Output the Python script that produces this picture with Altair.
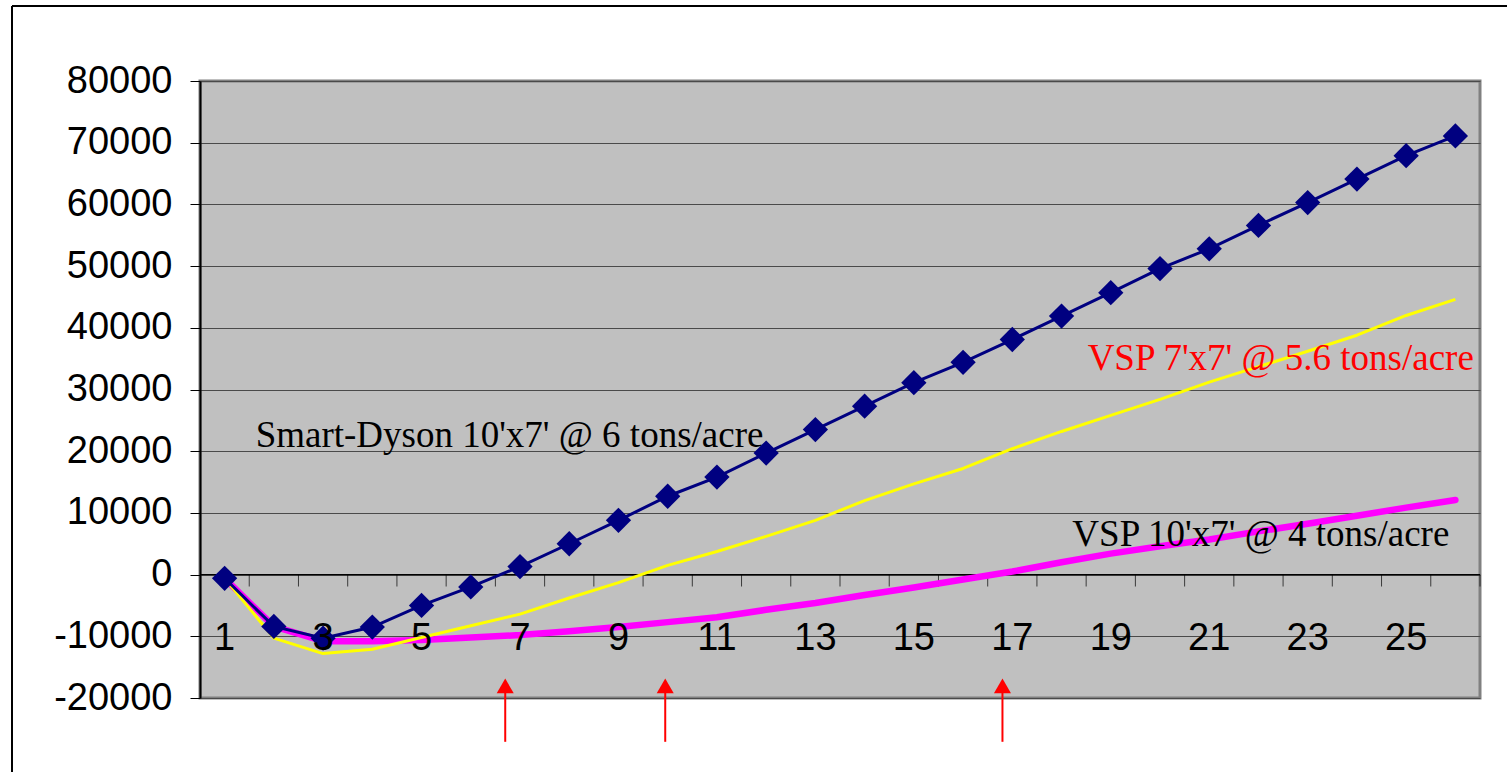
import altair as alt
import pandas as pd

# Cumulative net return per year for three planting scenarios
years = list(range(1, 27))
smart_dyson_10x7 = [-600, -8400, -10300, -8500, -5000, -2000, 1300, 5000, 8800, 12700,
                    15800, 19700, 23500, 27300, 31100, 34400, 38100, 41900, 45700, 49600,
                    52800, 56600, 60300, 64100, 67900, 71100]
vsp_7x7 = [-600, -10300, -12800, -12100, -10200, -8300, -6400, -3800, -1300, 1500,
           3750, 6200, 8800, 12000, 14700, 17200, 20400, 23200, 25800, 28400,
           31200, 33700, 36200, 38800, 42000, 44600]
vsp_10x7 = [-600, -8400, -10800, -10800, -10600, -10200, -9800, -9200, -8500, -7700,
            -6900, -5700, -4600, -3300, -2100, -800, 500, 2000, 3400, 4600,
            5700, 7000, 8250, 9550, 10850, 12100]

# Payback years marked with arrows below the plot
payback_years = [6.7, 9.95, 16.8]

# Category labels along the zero line
x_labels = [1, 3, 5, 7, 9, 11, 13, 15, 17, 19, 21, 23, 25]
y_ticks = list(range(-20000, 80001, 10000))

# Series annotations
ann_text = ["Smart-Dyson 10'x7' @ 6 tons/acre", "VSP 7'x7' @ 5.6 tons/acre",
            "VSP 10'x7' @ 4 tons/acre"]
ann_color = ["#000000", "#FF0000", "#000000"]
ann_x = [1.63, 18.53, 18.22]
ann_y = [20700, 33100, 4700]

df = pd.DataFrame({
    "year": years * 3,
    "value": smart_dyson_10x7 + vsp_7x7 + vsp_10x7,
    "series": ["Smart-Dyson"] * 26 + ["VSP 7x7"] * 26 + ["VSP 10x7"] * 26,
})
labels_df = pd.DataFrame({"year": x_labels, "label": [str(v) for v in x_labels]})
ticks_df = pd.DataFrame({"year": [y + 0.5 for y in years]})
arrows_df = pd.DataFrame({"year": payback_years})
ann_df = pd.DataFrame({"text": ann_text, "color": ann_color, "x": ann_x, "y": ann_y})

FONT_SANS = "Liberation Sans"
FONT_SERIF = "Liberation Serif"

x_scale = alt.Scale(domain=[0.5, 26.5], nice=False, zero=False)
y_scale = alt.Scale(domain=[-20000, 80000], nice=False)
y_axis = alt.Axis(values=y_ticks, title=None, labelExpr="'' + datum.value",
                  labelFont=FONT_SANS, labelFontSize=38, labelColor="#000000",
                  labelPadding=18, tickSize=10, tickColor="#000000", tickWidth=1,
                  domainColor="#000000", domainWidth=2,
                  grid=True, gridColor="#4a4a4a", gridWidth=1)


def X(field):
    return alt.X(f"{field}:Q", scale=x_scale, axis=None)


def Y(field):
    return alt.Y(f"{field}:Q", scale=y_scale, axis=y_axis)


one_row = alt.Data(values=[{}])

zero_line = alt.Chart(one_row).mark_rule(color="#000000", strokeWidth=1.2).encode(
    y=alt.datum(0, scale=y_scale, axis=y_axis)
)

x_ticks = alt.Chart(ticks_df).mark_tick(
    orient="vertical", size=12, thickness=1, color="#000000", yOffset=6
).encode(x=X("year"), y=alt.datum(0))

x_text = alt.Chart(labels_df).mark_text(
    font=FONT_SANS, fontSize=38, color="#000000", baseline="alphabetic", dy=75
).encode(x=X("year"), y=alt.datum(0), text="label:N")

magenta = alt.Chart(df).transform_filter(alt.datum.series == "VSP 10x7").mark_line(
    color="#FF00FF", strokeWidth=6.5, strokeJoin="round", strokeCap="round"
).encode(x=X("year"), y=Y("value"))

yellow = alt.Chart(df).transform_filter(alt.datum.series == "VSP 7x7").mark_line(
    color="#FFFF00", strokeWidth=3, strokeJoin="round"
).encode(x=X("year"), y=Y("value"))

navy_line = alt.Chart(df).transform_filter(alt.datum.series == "Smart-Dyson").mark_line(
    color="#000080", strokeWidth=3
).encode(x=X("year"), y=Y("value"))

navy_pts = alt.Chart(df).transform_filter(alt.datum.series == "Smart-Dyson").mark_point(
    shape="diamond", filled=True, size=640, color="#000080", opacity=1
).encode(x=X("year"), y=Y("value"))

annotations = alt.Chart(ann_df).mark_text(
    font=FONT_SERIF, fontSize=37, align="left", baseline="alphabetic"
).encode(x=X("x"), y=Y("y"), text="text:N",
         color=alt.Color("color:N", scale=None))

arrow_shafts = alt.Chart(arrows_df).mark_rule(
    color="#FF0000", strokeWidth=2, clip=False
).encode(x=X("year"), y=alt.datum(-18500), y2=alt.datum(-27100))

arrow_heads = alt.Chart(arrows_df).mark_point(
    shape="triangle-up", filled=True, size=290, color="#FF0000", opacity=1, clip=False
).encode(x=X("year"), y=alt.datum(-18050))

# Outer frame of the whole figure (left and top edges)
frame_left = alt.Chart(one_row).mark_rule(color="#000000", strokeWidth=2).encode(
    x=alt.value(-188), y=alt.value(-75), y2=alt.value(720)
)
frame_top = alt.Chart(one_row).mark_rule(color="#000000", strokeWidth=2).encode(
    x=alt.value(-188), x2=alt.value(1330), y=alt.value(-75)
)

chart = alt.layer(
    zero_line, x_ticks, magenta, yellow, navy_line, navy_pts, x_text,
    annotations, arrow_shafts, arrow_heads, frame_left, frame_top,
).properties(
    width=1280,
    height=617,
    autosize=alt.AutoSizeParams(type="none"),
    padding={"left": 200, "top": 81, "right": 27, "bottom": 74},
    background="#FFFFFF",
).configure_view(
    fill="#C0C0C0", stroke="#808080", strokeWidth=3
)

chart.save("out.html", embed_options={"renderer": "svg", "actions": False})
